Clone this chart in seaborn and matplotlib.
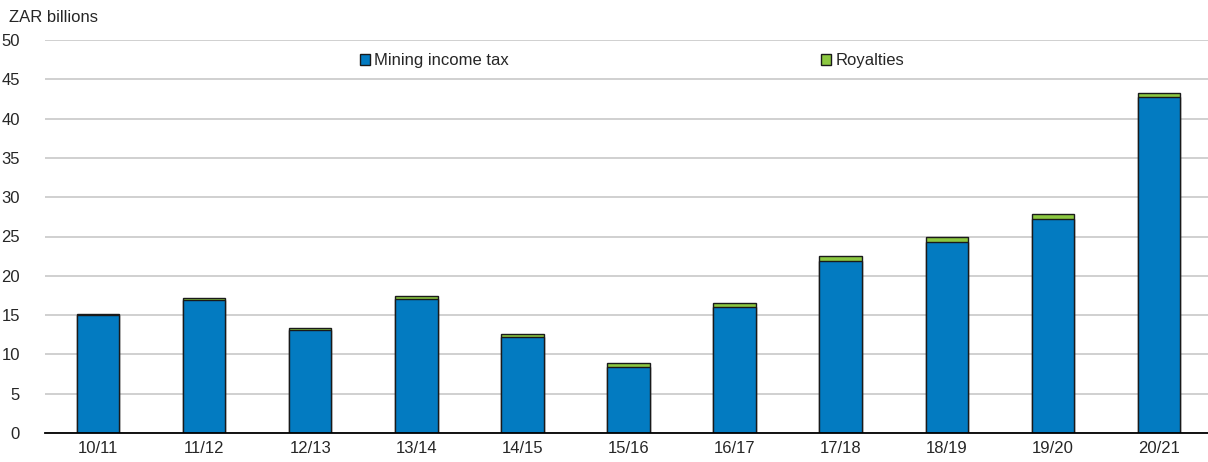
import matplotlib
matplotlib.use("Agg")
import matplotlib.pyplot as plt
import seaborn as sns
import pandas as pd
import numpy as np
from matplotlib.patches import Patch

categories = ["10/11", "11/12", "12/13", "13/14", "14/15", "15/16",
              "16/17", "17/18", "18/19", "19/20", "20/21"]
mining_income_tax = [15.0, 16.9, 13.1, 17.1, 12.2, 8.4, 16.0, 21.9, 24.3, 27.2, 42.7]
royalties = [0.2, 0.25, 0.3, 0.35, 0.4, 0.45, 0.5, 0.6, 0.6, 0.6, 0.6]
y_ticks = [0, 5, 10, 15, 20, 25, 30, 35, 40, 45, 50]

BLUE = "#037BC1"
GREEN = "#8CC841"
EDGE = "#1a1a1a"
FS = 12

sns.set_style("white")
plt.rcParams['font.family'] = ['Liberation Sans', 'DejaVu Sans']
plt.rcParams['font.size'] = FS

df = pd.DataFrame({
    "period": categories,
    "mit": mining_income_tax,
    "total": np.array(mining_income_tax) + np.array(royalties),
})

fig = plt.figure(figsize=(12.08, 4.62), dpi=100)
W, H = 1208, 462
x0, x1 = 45, 1212
y0, y1 = 433, 40
ax = fig.add_axes([x0 / W, 1 - y0 / H, (x1 - x0) / W, (y0 - y1) / H])

sns.barplot(data=df, x="period", y="total", color=GREEN, width=0.4,
            edgecolor=EDGE, linewidth=1.0, saturation=1, ax=ax, zorder=3)
sns.barplot(data=df, x="period", y="mit", color=BLUE, width=0.4,
            edgecolor=EDGE, linewidth=1.0, saturation=1, ax=ax, zorder=4)

ax.set_xlim(-0.5, len(categories) - 0.5)
ax.set_ylim(0, 50)
ax.set_yticks(y_ticks)
ax.set_yticklabels([str(v) for v in y_ticks], fontsize=FS)
ax.yaxis.grid(True, color="#C8C8C8", linewidth=1.2, zorder=0)
ax.set_axisbelow(True)
ax.set_xlabel("")
ax.set_ylabel("")

for s in ["top", "right", "left"]:
    ax.spines[s].set_visible(False)
ax.spines["bottom"].set_color("black")
ax.spines["bottom"].set_linewidth(1.3)
ax.spines["bottom"].set_zorder(5)

ax.tick_params(axis="y", length=0, pad=18)
ax.tick_params(axis="x", which="major", length=0, pad=6, labelsize=FS)
ax.set_xticks(np.arange(-0.5, len(categories), 1.0), minor=True)
ax.tick_params(axis="x", which="minor", direction="in", length=6, width=1.3, color="black")

fig.text(9 / W, 1 - 17 / H, "ZAR billions", fontsize=FS, va="center", ha="left")

h1 = Patch(facecolor=BLUE, edgecolor=EDGE, linewidth=1.0)
h2 = Patch(facecolor=GREEN, edgecolor=EDGE, linewidth=1.0)
common = dict(frameon=False, borderpad=0, borderaxespad=0, handlelength=0.6,
              handleheight=0.6, handletextpad=0.25, fontsize=FS, loc="center left",
              bbox_transform=fig.transFigure)
leg1 = ax.legend([h1], ["Mining income tax"], bbox_to_anchor=(360 / W, 1 - 61 / H), **common)
ax.add_artist(leg1)
leg2 = ax.legend([h2], ["Royalties"], bbox_to_anchor=(821 / W, 1 - 61 / H), **common)

fig.savefig("out.png", dpi=100)
